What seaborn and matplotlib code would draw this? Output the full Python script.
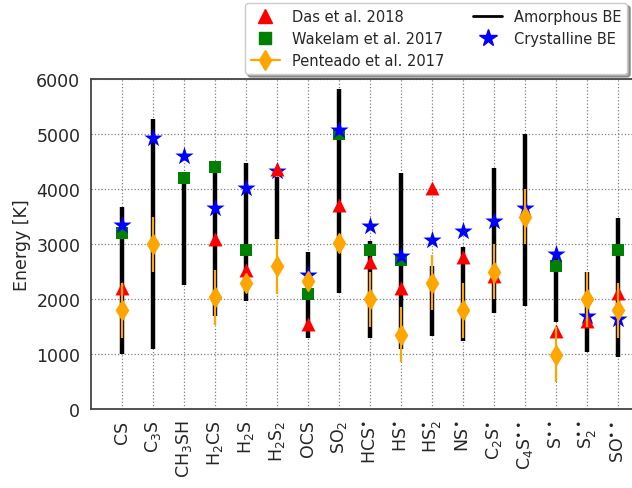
import numpy as np
import pandas as pd
import matplotlib
matplotlib.use("Agg")
import matplotlib.pyplot as plt
from matplotlib.lines import Line2D
import seaborn as sns

# Molecules (x axis)
species = ['CS', 'C$_3$S', 'CH$_3$SH', 'H$_2$CS', 'H$_2$S', 'H$_2$S$_2$', 'OCS', 'SO$_2$',
           'HCS$^{\\bullet}$', 'HS$^{\\bullet}$', 'HS$_2^{\\bullet}$', 'NS$^{\\bullet}$',
           'C$_2$S$^{\\bullet}$', 'C$_4$S$^{\\bullet\\bullet}$', 'S$^{\\bullet\\bullet}$',
           'S$_2^{\\bullet\\bullet}$', 'SO$^{\\bullet\\bullet}$']

nan = np.nan
das_2018 = [2200, nan, nan, 3100, 2530, 4360, 1545, 3715, 2680, 2195, 4010, 2760,
            2420, nan, 1410, 1600, 2105]
wakelam_2017 = [3200, nan, 4200, 4400, 2900, nan, 2100, 5000, 2900, 2715, nan, nan,
                nan, nan, 2600, nan, 2900]
penteado_2017 = [1800, 3000, nan, 2030, 2290, 2600, 2330, 3010, 2000, 1350, 2300, 1800,
                 2500, 3500, 985, 2000, 1800]
penteado_err = [500, 500, 0, 500, 0, 500, 0, 0, 500, 500, 500, 500,
                500, 500, 500, 500, 500]
crystalline_be = [3340, 4920, 4600, 3660, 4020, 4320, 2430, 5080, 3330, 2790, 3080, 3240,
                  3420, 3650, 2820, 1690, 1640]
amorphous_lo = [1000, 1100, 2260, 1700, 1970, 3100, 1290, 2110, 1300, 1090, 1320, 1240,
                1740, 1870, 1590, 1040, 940]
amorphous_hi = [3680, 5270, 4300, 4300, 4480, 4210, 2860, 5820, 3060, 4300, 2600, 2950,
                4380, 5000, 2800, 2500, 3470]

df = pd.DataFrame({
    'pos': np.arange(len(species)),
    'das': das_2018,
    'wakelam': wakelam_2017,
    'penteado': penteado_2017,
    'perr': penteado_err,
    'cryst': crystalline_be,
    'lo': amorphous_lo,
    'hi': amorphous_hi,
})

sns.set_style("white")
plt.rcParams['font.family'] = ['DejaVu Sans']
plt.rcParams['mathtext.default'] = 'regular'

fig = plt.figure(figsize=(6.32, 4.89), dpi=100)
ax = fig.add_axes([90.7 / 632, 79 / 489, 558 / 632, 330 / 489])

# amorphous BE ranges
ax.vlines(df['pos'], df['lo'], df['hi'], color='black', lw=3.2, zorder=2)

# literature values
sns.scatterplot(data=df, x='pos', y='wakelam', marker='s', color='green', s=85,
                linewidth=0, zorder=3, ax=ax)
sns.scatterplot(data=df, x='pos', y='cryst', marker='*', color='blue', s=190,
                linewidth=0, zorder=4, ax=ax)
sns.scatterplot(data=df, x='pos', y='das', marker='^', color='red', s=100,
                linewidth=0, zorder=5, ax=ax)
ax.errorbar(df['pos'], df['penteado'], yerr=df['perr'], fmt='d', color='orange',
            ms=10, elinewidth=1.6, capsize=0, zorder=6)

ax.set_xlim(-1, 17)
ax.set_ylim(0, 6000)
ax.set_yticks(np.arange(0, 6001, 1000))
ax.set_xticks(df['pos'])
ax.set_xticklabels(species, rotation=90, fontsize=12.5)
ax.tick_params(axis='y', labelsize=12.5)
ax.tick_params(axis='both', direction='out', length=4, width=1, color='#333333')
ax.set_xlabel('')
ax.set_ylabel('Energy [K]', fontsize=12.5)
ax.grid(True, ls=':', color='gray', lw=0.9)
for sp in ax.spines.values():
    sp.set_color('#444444')
    sp.set_linewidth(1.3)

handles = [
    Line2D([], [], ls='none', marker='^', color='red', ms=10),
    Line2D([], [], ls='none', marker='s', color='green', ms=9),
    Line2D([], [], color='orange', marker='d', ms=10, lw=1.6),
    Line2D([], [], color='black', lw=2),
    Line2D([], [], ls='none', marker='*', color='blue', ms=13),
]
labels = ['Das et al. 2018', 'Wakelam et al. 2017', 'Penteado et al. 2017',
          'Amorphous BE', 'Crystalline BE']
fig.legend(handles, labels, ncol=2, loc='upper left',
           bbox_to_anchor=(245 / 632, 1 - 4 / 489), borderaxespad=0,
           fontsize=10.5, shadow=True, framealpha=1, edgecolor='#cccccc')

fig.savefig('out.png', dpi=100)
plt.close(fig)
